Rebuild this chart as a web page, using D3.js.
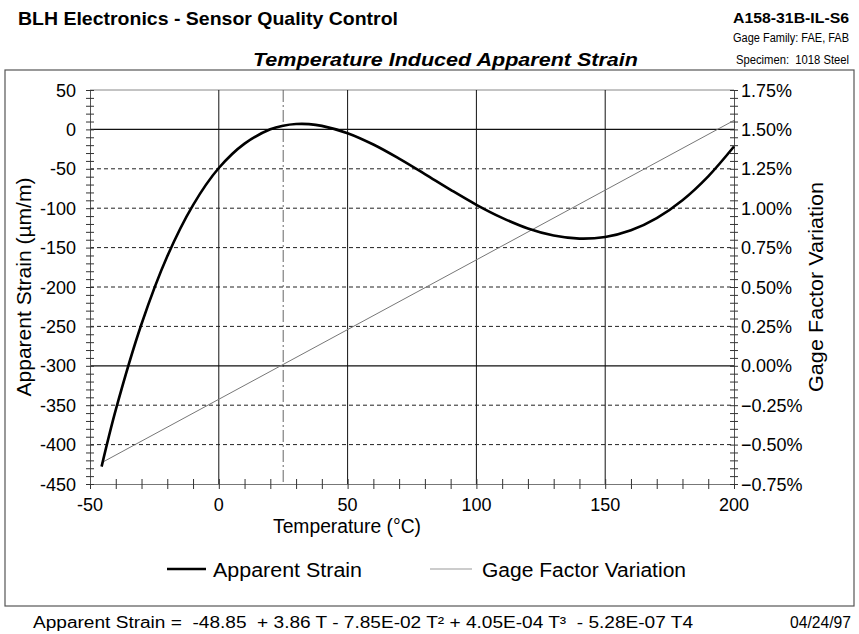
<!DOCTYPE html>
<html><head><meta charset="utf-8">
<script src="https://cdn.jsdelivr.net/npm/d3@7"></script>
<style>
body{margin:0;background:#fff;}
text{font-family:"Liberation Sans",Arial,sans-serif;fill:#000;}
</style></head>
<body><svg id="c" width="859" height="634"></svg>
<script>
// ---- data ----
const strainT = [-45.5,-40,-30,-20,-10,0,10,20,25,30,35,40,50,60,70,80,90,100,110,120,130,140,150,160,170,180,190,200];
const strainV = [-428,-356,-247,-161,-96,-49,-18,0.1,4.7,6.8,6.7,4.5,-4.8,-19.2,-37.1,-56.7,-76.7,-95.7,-112.3,-125.7,-134.7,-138.6,-136.5,-128,-112.5,-89.8,-59.5,-21.7];
const gageT = [-45.5,200];
const gageV = [-0.615,1.557];
const xTicks = [-50,0,50,100,150,200];
const yTicks = [50,0,-50,-100,-150,-200,-250,-300,-350,-400,-450];
const y2Ticks = [1.75,1.5,1.25,1.0,0.75,0.5,0.25,0,-0.25,-0.5,-0.75];
const solidX = [0,50,100,150];
const dashDotX = [25];
const solidY = [0,-300];
const dashedY = [-50,-100,-150,-200,-250,-350,-400];
const legendNames = ["Apparent Strain","Gage Factor Variation"];

const svg = d3.select("#c");
const L=90,R=734,T=90,B=484;
const x = d3.scaleLinear().domain([-50,200]).range([L,R]);
const y = d3.scaleLinear().domain([-450,50]).range([B,T]);
const y2 = d3.scaleLinear().domain([-0.75,1.75]).range([B,T]);

// outer frame
svg.append("rect").attr("x",5).attr("y",70).attr("width",849).attr("height",536)
  .attr("fill","none").attr("stroke","#555").attr("stroke-width",1.2);

// header texts
svg.append("text").attr("x",18).attr("y",25).attr("font-size",19).attr("font-weight","bold")
  .attr("textLength",380).attr("lengthAdjust","spacingAndGlyphs").text("BLH Electronics - Sensor Quality Control");
svg.append("text").attr("x",849).attr("y",23).attr("text-anchor","end").attr("font-size",15.5).attr("font-weight","bold")
  .attr("textLength",116).attr("lengthAdjust","spacingAndGlyphs").text("A158-31B-IL-S6");
svg.append("text").attr("x",849).attr("y",42).attr("text-anchor","end").attr("font-size",12)
  .attr("textLength",116).attr("lengthAdjust","spacingAndGlyphs").text("Gage Family: FAE, FAB");
svg.append("text").attr("x",849).attr("y",64).attr("text-anchor","end").attr("font-size",12).attr("xml:space","preserve")
  .attr("textLength",113).attr("lengthAdjust","spacingAndGlyphs").text("Specimen:  1018 Steel");
svg.append("text").attr("x",253).attr("y",66).attr("font-size",19).attr("font-weight","bold").attr("font-style","italic")
  .attr("textLength",385).attr("lengthAdjust","spacingAndGlyphs").text("Temperature Induced Apparent Strain");

const g = svg.append("g");
// top border
g.append("line").attr("x1",L).attr("x2",R).attr("y1",T).attr("y2",T).attr("stroke","#888").attr("stroke-width",1);

// vertical grid
g.selectAll(".vg").data(solidX).join("line").attr("x1",d=>x(d)).attr("x2",d=>x(d)).attr("y1",T).attr("y2",B)
  .attr("stroke","#111").attr("stroke-width",1);
g.selectAll(".vd").data(dashDotX).join("line").attr("x1",d=>x(d)).attr("x2",d=>x(d)).attr("y1",T).attr("y2",B)
  .attr("stroke","#666").attr("stroke-width",1).attr("stroke-dasharray","12,3,2,3");
// horizontal grid
g.selectAll(".hd").data(dashedY).join("line").attr("x1",L).attr("x2",R).attr("y1",d=>y(d)).attr("y2",d=>y(d))
  .attr("stroke","#222").attr("stroke-width",1).attr("stroke-dasharray","4,3");
g.selectAll(".hs").data(solidY).join("line").attr("x1",L).attr("x2",R).attr("y1",d=>y(d)).attr("y2",d=>y(d))
  .attr("stroke","#111").attr("stroke-width",1.2);

// axes
const fs = 18;
const xAxis = d3.axisBottom(x).tickValues(d3.range(-50,201,10)).tickSize(0).tickFormat("");
const gx = svg.append("g").attr("transform",`translate(0,${B})`).call(xAxis);
gx.select(".domain").attr("stroke","#777");
gx.selectAll(".tick").append("line").attr("y1",-5).attr("y2",5).attr("stroke","#333");
svg.append("g").selectAll("text").data(xTicks).join("text").attr("x",d=>x(d)).attr("y",511)
  .attr("text-anchor","middle").attr("font-size",fs).text(d=>d);

const yAxis = d3.axisLeft(y).tickValues(d3.range(-450,51,10)).tickSize(0).tickFormat("");
const gy = svg.append("g").attr("transform",`translate(${L},0)`).call(yAxis);
gy.select(".domain").attr("stroke","#555");
gy.selectAll(".tick").append("line").attr("x1",-4).attr("x2",4).attr("stroke","#333");
svg.append("g").selectAll("text").data(yTicks).join("text").attr("x",76).attr("y",d=>y(d)+6.5)
  .attr("text-anchor","end").attr("font-size",fs).text(d=>d);

const y2Axis = d3.axisRight(y2).tickValues(d3.range(-75,176,5).map(v=>v/100)).tickSize(0).tickFormat("");
const gy2 = svg.append("g").attr("transform",`translate(${R},0)`).call(y2Axis);
gy2.select(".domain").attr("stroke","#555");
gy2.selectAll(".tick").append("line").attr("x1",-4).attr("x2",4).attr("stroke","#333");
svg.append("g").selectAll("text").data(y2Ticks).join("text").attr("x",741).attr("y",d=>y2(d)+6.5)
  .attr("font-size",fs).text(d=>d3.format(".2f")(d)+"%");

// axis titles
svg.append("text").attr("x",347).attr("y",533).attr("text-anchor","middle").attr("font-size",20)
  .attr("textLength",148).attr("lengthAdjust","spacingAndGlyphs").text("Temperature (°C)");
svg.append("text").attr("transform","translate(31,287) rotate(-90)").attr("text-anchor","middle").attr("font-size",20)
  .attr("textLength",219).attr("lengthAdjust","spacingAndGlyphs").text("Apparent Strain (µm/m)");
svg.append("text").attr("transform","translate(823,287) rotate(-90)").attr("text-anchor","middle").attr("font-size",20)
  .attr("textLength",210).attr("lengthAdjust","spacingAndGlyphs").text("Gage Factor Variation");

// series
const strain = strainT.map((t,i)=>[t,strainV[i]]);
const gage = gageT.map((t,i)=>[t,gageV[i]]);
svg.append("path").datum(gage).attr("fill","none").attr("stroke","#777").attr("stroke-width",1)
  .attr("d",d3.line().x(d=>x(d[0])).y(d=>y2(d[1])));
svg.append("path").datum(strain).attr("fill","none").attr("stroke","#000").attr("stroke-width",2.6)
  .attr("d",d3.line().curve(d3.curveCatmullRom.alpha(0.5)).x(d=>x(d[0])).y(d=>y(d[1])));

// legend
const lg = svg.append("g");
lg.append("line").attr("x1",167).attr("x2",206).attr("y1",569).attr("y2",569).attr("stroke","#000").attr("stroke-width",2.6);
lg.append("text").attr("x",213).attr("y",577).attr("font-size",20)
  .attr("textLength",149).attr("lengthAdjust","spacingAndGlyphs").text(legendNames[0]);
lg.append("line").attr("x1",430).attr("x2",472).attr("y1",569).attr("y2",569).attr("stroke","#999").attr("stroke-width",1);
lg.append("text").attr("x",482).attr("y",577).attr("font-size",20)
  .attr("textLength",204).attr("lengthAdjust","spacingAndGlyphs").text(legendNames[1]);

// footer
svg.append("text").attr("x",33).attr("y",628).attr("font-size",16).attr("xml:space","preserve")
  .attr("textLength",660).attr("lengthAdjust","spacingAndGlyphs")
  .text("Apparent Strain =  -48.85  + 3.86 T - 7.85E-02 T² + 4.05E-04 T³  - 5.28E-07 T4");
svg.append("text").attr("x",851).attr("y",628).attr("text-anchor","end").attr("font-size",16)
  .attr("textLength",61).attr("lengthAdjust","spacingAndGlyphs").text("04/24/97");
</script></body></html>
